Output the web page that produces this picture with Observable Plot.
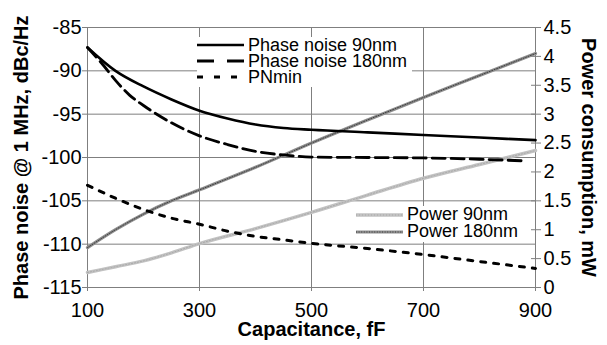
<!DOCTYPE html>
<html><head><meta charset="utf-8">
<script src="https://cdn.jsdelivr.net/npm/d3@7"></script>
<script src="https://cdn.jsdelivr.net/npm/@observablehq/plot@0.6"></script>
<style>
body{margin:0;background:#fff;}
#wrap{position:relative;width:607px;height:345px;font-family:"Liberation Sans",Arial,sans-serif;overflow:hidden;}
.leg{position:absolute;background:#fff;font-size:18px;color:#000;}
.row{display:flex;align-items:center;white-space:nowrap;overflow:visible;}
.row span{line-height:15px;display:inline-block;height:15px;}
.row svg{margin-right:4px;}
</style></head><body><div id="wrap"></div>
<script>
// ---- data ----
const xTicks = [100, 300, 500, 700, 900];
const yTicks = [-115, -110, -105, -100, -95, -90, -85];
const powerTicks = [0, 0.5, 1, 1.5, 2, 2.5, 3, 3.5, 4, 4.5];

const capPN90 = [100, 150, 200, 250, 300, 350, 400, 450, 500, 600, 700, 800, 900];
const pn90 = [-87.3, -90.0, -91.8, -93.3, -94.6, -95.5, -96.2, -96.6, -96.8, -97.1, -97.4, -97.7, -98.0];

const capPN180 = [100, 125, 150, 175, 200, 250, 300, 350, 400, 450, 500, 600, 700, 800, 885];
const pn180 = [-87.3, -89.1, -91.1, -92.8, -94.0, -96.0, -97.5, -98.5, -99.3, -99.7, -99.95, -100.0, -100.05, -100.2, -100.4];

const capPNmin = [100, 150, 200, 250, 300, 350, 400, 450, 500, 600, 700, 800, 900];
const pnMin = [-103.2, -104.7, -106.0, -107.0, -107.7, -108.5, -109.1, -109.5, -109.9, -110.5, -111.2, -112.0, -112.8];

const capPower = [100, 150, 200, 250, 300, 400, 500, 600, 700, 800, 900];
const power90 = [0.26, 0.36, 0.46, 0.60, 0.76, 1.02, 1.30, 1.60, 1.89, 2.13, 2.37];
const power180 = [0.69, 1.0, 1.27, 1.50, 1.69, 2.08, 2.50, 2.90, 3.29, 3.67, 4.05];

const seriesNames = ["Phase noise 90nm", "Phase noise 180nm", "PNmin", "Power 90nm", "Power 180nm"];
const xLabel = "Capacitance, fF";
const yLabel = "Phase noise @ 1 MHz, dBc/Hz";
const y2Label = "Power consumption, mW";

// ---- helpers ----
const yMin = -115, yMax = -85, pMax = 4.5;
const toLeft = p => yMin + p * (yMax - yMin) / pMax;
const toPower = v => (v - yMin) * pMax / (yMax - yMin);
const rows = (xs, ys, f = d => d) => xs.map((c, i) => ({c, v: f(ys[i])}));

const gridColor = "#7f7f7f";
const st = {
  pn90: {stroke: "#000", strokeWidth: 2.6},
  pn180: {stroke: "#000", strokeWidth: 2.8, strokeDasharray: "13 6"},
  pnMin: {stroke: "#000", strokeWidth: 3, strokeDasharray: "5 8"},
  p90base: {stroke: "#c2c2c2", strokeWidth: 3.5},
  p90over: {stroke: "#a8a8a8", strokeWidth: 1, strokeDasharray: "1 2"},
  p180base: {stroke: "#8e8e8e", strokeWidth: 3.2},
  p180over: {stroke: "#3c3c3c", strokeWidth: 1, strokeDasharray: "1 1.6"}
};

const chart = Plot.plot({
  width: 607, height: 345,
  marginLeft: 87, marginRight: 72, marginTop: 27, marginBottom: 58,
  style: {fontFamily: '"Liberation Sans", Arial, sans-serif', fontSize: "20px", color: "#000", background: "transparent", overflow: "visible"},
  x: {domain: [100, 900]},
  y: {domain: [yMin, yMax]},
  marks: [
    Plot.gridX({ticks: xTicks, stroke: gridColor, strokeOpacity: 1}),
    Plot.gridY({ticks: yTicks, stroke: gridColor, strokeOpacity: 1}),
    Plot.axisX({ticks: xTicks, tickSize: 4, tickPadding: 11, stroke: gridColor, label: null, tickFormat: d => String(d)}),
    Plot.axisY({ticks: yTicks, tickSize: 5, tickPadding: 1, stroke: gridColor, label: null, tickFormat: d => String(d)}),
    Plot.axisY({anchor: "right", ticks: powerTicks.map(toLeft), tickFormat: v => String(+toPower(v).toFixed(1)),
      tickSize: 5, tickPadding: 3, stroke: gridColor, label: null}),
    Plot.axisY({anchor: "right", ticks: powerTicks.map(toLeft), tickFormat: () => "", tickSize: 5, dx: -5, stroke: gridColor, label: null}),
    // power lines (right axis mapped to left scale)
    Plot.line(rows(capPower, power90, toLeft), {x: "c", y: "v", curve: "monotone-x", ...st.p90base}),
    Plot.line(rows(capPower, power90, toLeft), {x: "c", y: "v", curve: "monotone-x", ...st.p90over}),
    Plot.line(rows(capPower, power180, toLeft), {x: "c", y: "v", curve: "monotone-x", ...st.p180base}),
    Plot.line(rows(capPower, power180, toLeft), {x: "c", y: "v", curve: "monotone-x", ...st.p180over}),
    // phase noise lines
    Plot.line(rows(capPNmin, pnMin), {x: "c", y: "v", curve: "monotone-x", ...st.pnMin}),
    Plot.line(rows(capPN180, pn180), {x: "c", y: "v", curve: "monotone-x", ...st.pn180}),
    Plot.line(rows(capPN90, pn90), {x: "c", y: "v", curve: "monotone-x", ...st.pn90}),
    // axis titles
    Plot.text([xLabel], {frameAnchor: "bottom", dy: 48, text: d => d, fontWeight: "bold", fontSize: 20, textAnchor: "middle"}),
    Plot.text([yLabel], {frameAnchor: "left", dx: -66, rotate: -90, text: d => d, fontWeight: "bold", fontSize: 20, textAnchor: "middle"}),
    Plot.text([y2Label], {frameAnchor: "right", dx: 53, rotate: 90, text: d => d, fontWeight: "bold", fontSize: 20, textAnchor: "middle"})
  ]
});
const wrap = document.getElementById("wrap");
wrap.appendChild(chart);

// ---- legends ----
function swatch(styles) {
  const ns = "http://www.w3.org/2000/svg";
  const s = document.createElementNS(ns, "svg");
  s.setAttribute("width", 47); s.setAttribute("height", 8);
  for (const sty of styles) {
    const l = document.createElementNS(ns, "line");
    l.setAttribute("x1", 0); l.setAttribute("x2", 47); l.setAttribute("y1", 4); l.setAttribute("y2", 4);
    l.setAttribute("stroke", sty.stroke); l.setAttribute("stroke-width", sty.strokeWidth);
    if (sty.strokeDasharray) l.setAttribute("stroke-dasharray", sty.strokeDasharray);
    s.appendChild(l);
  }
  return s;
}
function legend(items, left, top, w, h, rowH) {
  const box = document.createElement("div");
  box.className = "leg";
  Object.assign(box.style, {left: left + "px", top: top + "px", width: w + "px", height: h + "px", boxSizing: "border-box"});
  for (const [name, styles] of items) {
    const r = document.createElement("div");
    r.className = "row";
    r.style.height = rowH + "px";
    r.appendChild(swatch(styles));
    const t = document.createElement("span"); t.textContent = name;
    r.appendChild(t);
    box.appendChild(r);
  }
  wrap.appendChild(box);
}
legend([[seriesNames[0], [st.pn90]], [seriesNames[1], [{...st.pn180, strokeDasharray: "17 13"}]], [seriesNames[2], [{...st.pnMin, strokeDasharray: "6 11"}]]],
  197, 37, 215, 50, 16);
legend([[seriesNames[3], [st.p90base, st.p90over]], [seriesNames[4], [st.p180base, st.p180over]]],
  356, 206, 165, 36, 17);
</script></body></html>
